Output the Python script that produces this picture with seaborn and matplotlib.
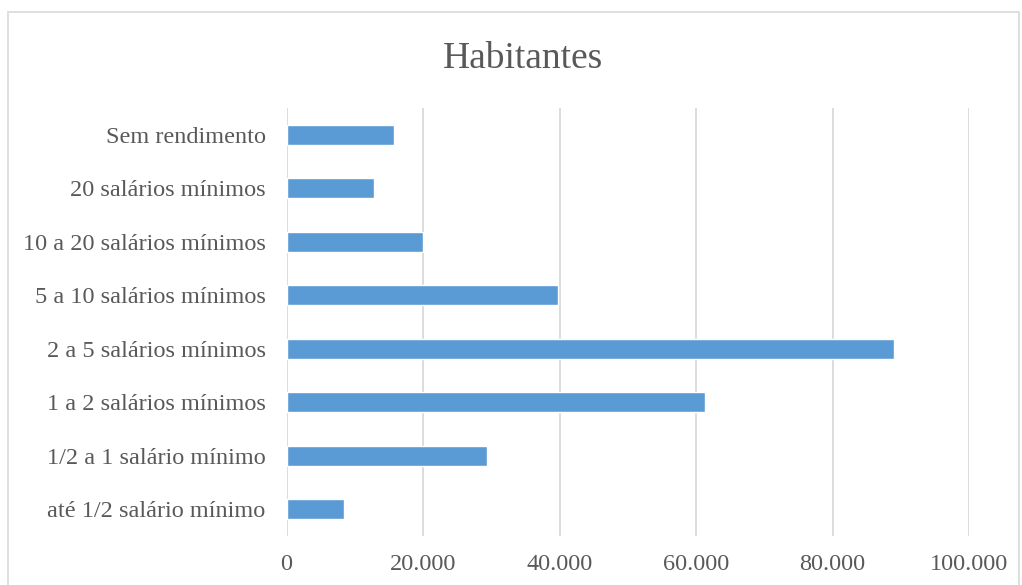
import matplotlib
matplotlib.use("Agg")
import matplotlib.pyplot as plt
import matplotlib.patches as mpatches
from matplotlib.ticker import FuncFormatter
import seaborn as sns
import pandas as pd

categories = [
    "Sem rendimento",
    "20 salários mínimos",
    "10 a 20 salários mínimos",
    "5 a 10 salários mínimos",
    "2 a 5 salários mínimos",
    "1 a 2 salários mínimos",
    "1/2 a 1 salário mínimo",
    "até 1/2 salário mínimo",
]
values = [15800, 12860, 20000, 39840, 88970, 61360, 29440, 8440]
x_ticks = [0, 20000, 40000, 60000, 80000, 100000]
title = "Habitantes"

sns.set_theme(style="white")
plt.rcParams["font.family"] = ["Liberation Serif", "DejaVu Serif"]

df = pd.DataFrame({"cat": categories, "val": values})

fig = plt.figure(figsize=(10.22, 5.85), dpi=100)
ax = fig.add_axes([286.5 / 1022, 1 - 536 / 585, (969 - 286.5) / 1022, (536 - 108) / 585])

sns.barplot(data=df, y="cat", x="val", orient="h", color="#5B9BD5",
            saturation=1, width=0.37, ax=ax, zorder=3)

ax.set_xlim(0, 100000)
ax.set_xticks(x_ticks)
ax.xaxis.set_major_formatter(FuncFormatter(lambda v, p: f"{int(v):,}".replace(",", ".")))
ax.grid(axis="x", color="#D9D9D9", linewidth=1.3, zorder=0)
ax.grid(axis="y", visible=False)
for s in ax.spines.values():
    s.set_visible(False)
ax.set_xlabel("")
ax.set_ylabel("")
ax.tick_params(axis="both", length=0, labelsize=17.5, labelcolor="#595959")
ax.tick_params(axis="x", pad=13)
ax.tick_params(axis="y", pad=15)

fig.text(523 / 1022, 1 - 59 / 585, title, ha="center", va="center",
         fontsize=27, color="#595959")

border = mpatches.Rectangle((8 / 1022, -0.05), (1019 - 8) / 1022, 1 - 12 / 585 + 0.05,
                            transform=fig.transFigure, fill=False,
                            edgecolor="#D9D9D9", linewidth=1.2)
fig.patches.append(border)

fig.savefig("out.png", dpi=100)
